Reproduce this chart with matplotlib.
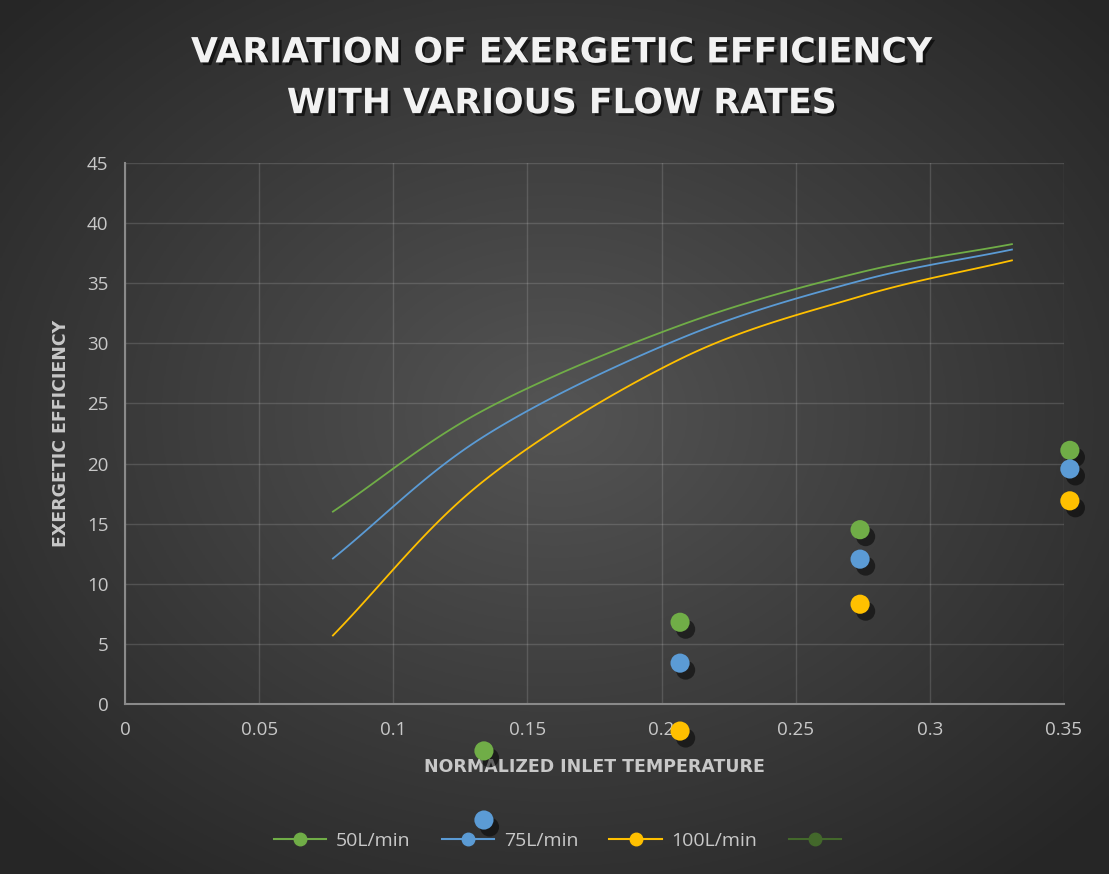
import numpy as np
import matplotlib
matplotlib.use("Agg")
import matplotlib.pyplot as plt
import matplotlib.patheffects as pe
from matplotlib.lines import Line2D

# smooth line series
line_x = [0.0775, 0.1334, 0.207, 0.274, 0.3306]
line_50 = [16.0, 24.4, 31.5, 35.9, 38.25]
line_75 = [12.1, 22.2, 30.4, 35.2, 37.8]
line_100 = [5.7, 18.5, 28.7, 33.9, 36.9]

# scatter points (some fall below the plot area)
pts_x_50 = [0.1338, 0.2069, 0.274, 0.3522]
pts_50 = [-3.9, 6.8, 14.5, 21.1]
pts_x_75 = [0.1338, 0.2069, 0.274, 0.3522]
pts_75 = [-9.65, 3.4, 12.05, 19.55]
pts_x_100 = [0.2069, 0.274, 0.3522]
pts_100 = [-2.25, 8.3, 16.9]

labels = ["50L/min", "75L/min", "100L/min", ""]
colors = ["#70AD47", "#5B9BD5", "#FFC000", "#43682B"]


def smooth(x, y, n=30, tension=0.5):
    # cardinal spline, similar to Excel's smoothed line
    x = np.asarray(x, float)
    y = np.asarray(y, float)
    px = np.concatenate([[2 * x[0] - x[1]], x, [2 * x[-1] - x[-2]]])
    py = np.concatenate([[2 * y[0] - y[1]], y, [2 * y[-1] - y[-2]]])
    xs, ys = [], []
    t = np.linspace(0, 1, n, endpoint=False)
    h00 = 2 * t ** 3 - 3 * t ** 2 + 1
    h10 = t ** 3 - 2 * t ** 2 + t
    h01 = -2 * t ** 3 + 3 * t ** 2
    h11 = t ** 3 - t ** 2
    for i in range(1, len(px) - 2):
        for p, out in ((px, xs), (py, ys)):
            m1 = tension * (p[i + 1] - p[i - 1])
            m2 = tension * (p[i + 2] - p[i])
            out.extend(h00 * p[i] + h10 * m1 + h01 * p[i + 1] + h11 * m2)
    xs.append(x[-1])
    ys.append(y[-1])
    return np.array(xs), np.array(ys)


fig = plt.figure(figsize=(11.09, 8.74), dpi=100)

# radial gradient background
bg = fig.add_axes([0, 0, 1, 1], zorder=-10)
gx, gy = np.meshgrid(np.linspace(-1, 1, 400), np.linspace(-1, 1, 400))
r = np.sqrt(gx ** 2 + (gy - 0.05) ** 2)
r = np.clip(r / 1.35, 0, 1)
c0, c1 = np.array([0.33, 0.33, 0.33]), np.array([0.15, 0.15, 0.15])
img = c0[None, None, :] * (1 - r[..., None]) + c1[None, None, :] * r[..., None]
bg.imshow(img, extent=[0, 1, 0, 1], aspect="auto", origin="lower")
bg.axis("off")

ax = fig.add_axes([0.1127, 0.1945, 0.8467, 0.619])
ax.set_facecolor("none")

tick_col = "#C8C8C8"

for ly, c in zip([line_50, line_75, line_100], colors):
    sx, sy = smooth(line_x, ly)
    ax.plot(sx, sy, color=c, lw=1.3, zorder=3)

shadow = [pe.SimplePatchShadow(offset=(4, -5), shadow_rgbFace="black", alpha=0.5), pe.Normal()]
for xs, ys, c in zip([pts_x_50, pts_x_75, pts_x_100], [pts_50, pts_75, pts_100], colors):
    ax.scatter(xs, ys, s=190, color=c, edgecolors="none", zorder=4, clip_on=False,
               path_effects=shadow)

ax.set_xlim(0, 0.35)
ax.set_ylim(0, 45)
ax.set_xticks(np.arange(0, 0.351, 0.05))
ax.set_xticklabels(["0", "0.05", "0.1", "0.15", "0.2", "0.25", "0.3", "0.35"])
ax.set_yticks(np.arange(0, 46, 5))
ax.grid(True, color="white", alpha=0.14, lw=1.0)
ax.set_axisbelow(True)
for s in ["top", "right"]:
    ax.spines[s].set_visible(False)
for s in ["left", "bottom"]:
    ax.spines[s].set_color("#8A8A8A")
    ax.spines[s].set_linewidth(1.5)
ax.tick_params(colors=tick_col, labelsize=13.5, length=0, pad=12)
for t in ax.get_xticklabels() + ax.get_yticklabels():
    t.set_color(tick_col)
    t.set_family(["Open Sans", "DejaVu Sans"])

ax.set_xlabel("NORMALIZED INLET TEMPERATURE", color=tick_col, fontsize=12.5,
              fontweight="bold", labelpad=14)
ax.set_ylabel("EXERGETIC EFFICIENCY", color=tick_col, fontsize=12.5,
              fontweight="bold", labelpad=12)

fig.text(0.507, 0.911, "VARIATION OF EXERGETIC EFFICIENCY\nWITH VARIOUS FLOW RATES",
         ha="center", va="center", color="#F2F2F2", fontsize=25, fontweight="bold",
         linespacing=1.62,
         path_effects=[pe.withSimplePatchShadow(offset=(2, -2), shadow_rgbFace="black", alpha=0.6)])

handles = [Line2D([0], [0], color=c, lw=1.5, marker="o", markersize=9, markeredgecolor=c)
           for c in colors]
fig.legend(handles, labels, loc="center", bbox_to_anchor=(0.507, 0.038), ncol=4,
           frameon=False, prop={"family": ["Open Sans", "DejaVu Sans"], "size": 14},
           labelcolor=tick_col, handlelength=2.7, columnspacing=1.6, handletextpad=0.5)

fig.savefig("out.png", dpi=100)
